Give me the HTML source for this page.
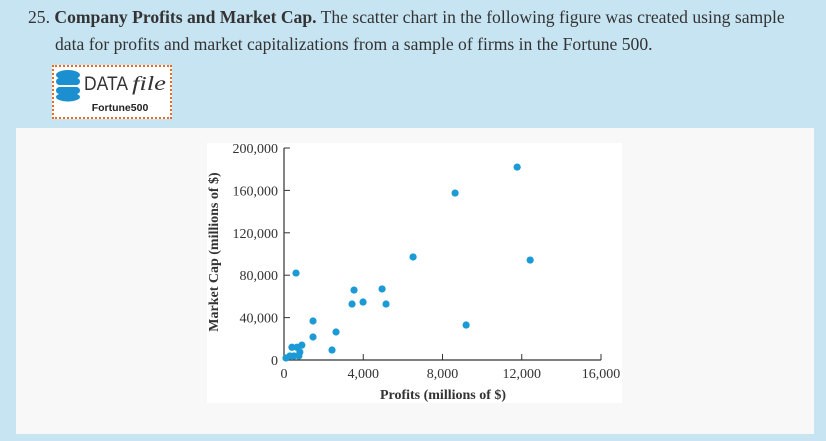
<!DOCTYPE html>
<html><head><meta charset="utf-8"><style>
body{margin:0;width:826px;height:441px;background:#c7e4f2;position:relative;overflow:hidden;font-family:"Liberation Serif",serif;}
.q{position:absolute;left:28px;top:4px;font-size:17.6px;color:#333;line-height:27px;width:800px;white-space:nowrap}
.df{position:absolute;left:52px;top:65px;width:116px;height:50px;border:2px dotted #f06a1c;background:#fff}
.panel{position:absolute;left:16px;top:128px;width:798px;height:306px;background:#f8f8f8}
svg{position:absolute;left:0;top:0}
</style></head><body>
<div class="q">25. <b>Company Profits and Market Cap.</b> The scatter chart in the following figure was created using sample<br><span style="margin-left:27px">data for profits and market capitalizations from a sample of firms in the Fortune 500.</span></div>
<div class="df">
<svg width="116" height="50"><g fill="#1b8fcf"><ellipse cx="14" cy="8" rx="12" ry="5"/><rect x="2" y="11" width="24" height="7" rx="3.5"/><rect x="2" y="20" width="24" height="7" rx="3.5"/><ellipse cx="14" cy="30" rx="12" ry="4.5"/></g>
<text x="30" y="23" font-family="Liberation Sans,sans-serif" font-size="19" fill="#333" textLength="44" lengthAdjust="spacingAndGlyphs">DATA</text><text x="78" y="23" font-size="20" font-style="italic" fill="#333" textLength="34" lengthAdjust="spacingAndGlyphs">file</text>
<text x="66" y="44" font-family="Liberation Sans,sans-serif" font-size="10.5" font-weight="bold" fill="#222" text-anchor="middle">Fortune500</text></svg></div>
<div class="panel"></div>
<svg width="826" height="441" id="chart">
<rect x="207" y="143" width="415" height="260" fill="#fff"/>
</svg>
<script>
const profits=[100,300,400,650,800,900,750,500,606,6515,8636,11768,12424,9192,3535,4950,3434,3990,5150,1465,2626,1465,2424];
const marketCap=[1900,3800,12000,12000,7500,14000,3800,3800,82000,97200,157500,182000,94300,33000,66000,67000,52800,54700,52800,36800,26400,21700,9400];
const xTicks=[0,4000,8000,12000,16000];
const yTicks=[0,40000,80000,120000,160000,200000];
const NS='http://www.w3.org/2000/svg';
const svg=document.getElementById('chart');
const X=v=>284+v*(601-284)/16000;
const Y=v=>360-v*(360-148)/200000;
function el(t,a,p){const e=document.createElementNS(NS,t);for(const k in a)e.setAttribute(k,a[k]);(p||svg).appendChild(e);return e;}
const ax=el('path',{d:`M${X(0)} ${Y(200000)}V${Y(0)}H${X(16000)}`,stroke:'#333',fill:'none','stroke-width':1.2});


xTicks.forEach(v=>{
 const l=el('line',{x1:X(v),x2:X(v),y1:Y(0),y2:Y(0)-6,stroke:'#333'});
 
 
 const t=el('text',{x:X(v),y:Y(0)+18,'text-anchor':'middle','font-size':14,fill:'#333'});t.textContent=v.toLocaleString('en-US');
 
 
});
yTicks.forEach(v=>{
 const l=el('line',{x1:X(0),x2:X(0)+6,y1:Y(v),y2:Y(v),stroke:'#333'});
 
 
 const t=el('text',{x:X(0)-6,y:Y(v)+5,'text-anchor':'end','font-size':14,fill:'#333'});t.textContent=v.toLocaleString('en-US');
 
 
});
profits.forEach((p,i)=>{
 const c=el('circle',{cx:X(p),cy:Y(marketCap[i]),r:3.6,fill:'#1b9ad6'});
 
 
});
const xt=el('text',{x:443,y:399,'text-anchor':'middle','font-size':14,'font-weight':'bold',fill:'#333'});xt.textContent='Profits (millions of $)';


const yt=el('text',{x:0,y:0,'text-anchor':'middle','font-size':14,'font-weight':'bold',fill:'#333',transform:'translate(218,252) rotate(-90)'});yt.textContent='Market Cap (millions of $)';


</script>
</body></html>
